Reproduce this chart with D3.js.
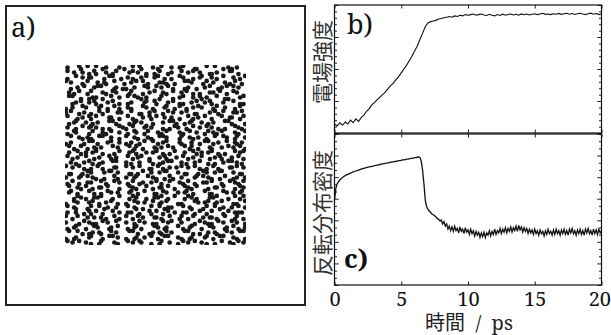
<!DOCTYPE html>
<html>
<head>
<meta charset="utf-8">
<script src="https://cdn.jsdelivr.net/npm/d3@7"></script>
<style>
  html, body { margin: 0; padding: 0; background: #fff; }
  svg { display: block; }
</style>
</head>
<body>
<div id="chart"></div>
<script>
// time axis ticks (ps)
const timeTicks = [0, 5, 10, 15, 20];

// b) field strength, sampled every 0.2 ps from 0 to 20
const fieldStep = 0.2;
const fieldValues = [
  0.07, 0.055, 0.08, 0.06, 0.085, 0.07, 0.10, 0.08, 0.11, 0.09,
  0.12, 0.14, 0.17, 0.19, 0.22, 0.24, 0.26, 0.28, 0.30, 0.32,
  0.345, 0.37, 0.39, 0.415, 0.44, 0.47, 0.50, 0.53, 0.565, 0.60,
  0.64, 0.68, 0.73, 0.78, 0.83, 0.86, 0.87, 0.875, 0.88, 0.89,
  0.895, 0.90, 0.905, 0.91, 0.905, 0.915, 0.91, 0.92, 0.915, 0.925,
  0.92, 0.925, 0.93, 0.92, 0.925, 0.93, 0.922, 0.918, 0.927, 0.92,
  0.915, 0.925, 0.918, 0.928, 0.92, 0.926, 0.93, 0.922, 0.928, 0.92,
  0.93, 0.924, 0.93, 0.922, 0.928, 0.932, 0.925, 0.93, 0.935, 0.927,
  0.93, 0.925, 0.932, 0.928, 0.934, 0.927, 0.932, 0.935, 0.928, 0.933,
  0.926, 0.932, 0.936, 0.93, 0.925, 0.932, 0.936, 0.928, 0.933, 0.925,
  0.93
];

// c) population inversion density, sampled every 0.1 ps from 0 to 20
const invStep = 0.1;
const invValues = [
  0.56, 0.64, 0.67, 0.685, 0.695, 0.705, 0.712, 0.718, 0.724, 0.729,
  0.733, 0.737, 0.741, 0.745, 0.749, 0.752, 0.755, 0.758, 0.761, 0.764,
  0.767, 0.770, 0.773, 0.776, 0.778, 0.780, 0.782, 0.784, 0.786, 0.788,
  0.790, 0.792, 0.794, 0.796, 0.798, 0.800, 0.802, 0.804, 0.806, 0.807,
  0.809, 0.811, 0.813, 0.814, 0.816, 0.818, 0.819, 0.821, 0.823, 0.824,
  0.826, 0.828, 0.829, 0.831, 0.833, 0.834, 0.836, 0.838, 0.839, 0.841,
  0.843, 0.844, 0.846, 0.848, 0.845, 0.82, 0.76, 0.67, 0.56, 0.52,
  0.50, 0.49, 0.48, 0.47, 0.465, 0.458, 0.45, 0.44, 0.435, 0.425,
  0.43, 0.405, 0.42, 0.39, 0.405, 0.37, 0.39, 0.36, 0.385, 0.355,
  0.39, 0.36, 0.375, 0.345, 0.385, 0.355, 0.37, 0.34, 0.38, 0.35,
  0.365, 0.335, 0.37, 0.34, 0.36, 0.325, 0.355, 0.33, 0.35, 0.315,
  0.345, 0.32, 0.35, 0.315, 0.345, 0.33, 0.36, 0.325, 0.355, 0.335,
  0.37, 0.335, 0.36, 0.345, 0.375, 0.34, 0.37, 0.35, 0.38, 0.345,
  0.375, 0.355, 0.385, 0.35, 0.38, 0.36, 0.39, 0.355, 0.395, 0.365,
  0.385, 0.35, 0.38, 0.355, 0.375, 0.34, 0.37, 0.345, 0.365, 0.335,
  0.37, 0.34, 0.36, 0.33, 0.365, 0.34, 0.355, 0.325, 0.36, 0.335,
  0.37, 0.34, 0.355, 0.33, 0.365, 0.335, 0.37, 0.34, 0.36, 0.33,
  0.365, 0.34, 0.37, 0.335, 0.36, 0.33, 0.37, 0.345, 0.375, 0.34,
  0.36, 0.33, 0.365, 0.34, 0.37, 0.335, 0.36, 0.33, 0.37, 0.345,
  0.375, 0.34, 0.36, 0.33, 0.37, 0.34, 0.365, 0.335, 0.37, 0.345,
  0.36
];

// a) particle snapshot: one row per string, one cell per character.
// '.' = empty cell, a..i = particle at one of 3x3 offsets inside the cell
const particleRows = [
  "e.cgb.ahd.fi.bcg.eha.dfb.ig.ac.hegd.",
  "bf.eicg.dha.fbe.gic.hd.aebf.igd.cah.",
  "h.aefd.icb.geh.dafbi.gce.hfa.dgb.eic",
  "ad.hb.efgc.i.dabh.fegi.cbd.hae.fic.g",
  ".gec.fba.idhgf.ce.adbh.ie.gfc.hdabe.",
  "fic.ha.egbd.ia.hfc.egb.dahi.fec.gbd.",
  "cb.giedh.af.bcegd.ia.hfb.ecgd.aih.fb",
  ".hdafcg.ebi.hd.facg.ebih.dafcg.e.bih",
  "ge.bd.fahci.eg.bdh.faic.gebd.haf.ic.",
  "daif.gchb.ed.aigfc.hbe.daig.fchb.eda",
  "b.hecga.fdi.bh.ecgaf.di.bhec.g.afdib",
  "ifa.dhe.cbg.ifad.h.ecbgifa.dhe.cbg.i",
  "e.gbfadhi.cegb.fad.hice.gbf.adhi.ceg",
  "hcd.ib.egaf.hcdib.ega.fhc.dibega.fhc",
  ".afhegcb.di.afh.egcbd.iafhe.gc.bdiaf",
  "gd.icbh.eaf.gdic.bhea.fg.dicbhe.afgd",
  "ci.ahfgd.be.ciah.fgdbe.ciah.fg.dbeci",
  "f.bgdeah.ic.fbg.deahic.f.bgdeahi.cfb",
  "bhe.aif.cgd.bheai.fcg.dbhe.aifcg.dbh",
  ".dgfchie.ba.dgf.chieba.dgfc.hi.ebadg",
  "aeci.gbh.fd.aec.igbhf.daeci.gbh.fdae",
  "ig.hbd.fcae.ighb.dfca.eig.hbdfca.eig",
  "d.fabegi.ch.dfa.begich.d.fabegic.hdf",
  "hbi.ed.agcf.hbie.dagc.fhbi.eda.gcfhb",
  "c.egahfdb.i.ceg.ahfdbi.cega.hfdb.ice",
  "fah.ci.gbde.fahc.igbd.efah.cig.bdefa",
  ".ibdgfea.hc.ibd.gfeahc.ibdg.fea.hcib",
  "gce.fbi.dah.gcef.bida.hg.cefbida.hgc",
  "bfg.hacie.d.bfgh.acied.bfg.hacie.dbf",
  "e.dicgah.bf.edi.cgahbf.edic.ga.hbfed",
  "ahb.ef.dgci.ahbe.fdgc.iahb.efdgc.iah",
  "d.icfhgbe.a.dicf.hgbea.d.icfhgbe.adi",
  "hfa.gce.idb.hfag.ceid.bhfa.gce.idbhf",
  "c.bhiefg.ad.cbh.iefgad.cbhi.efg.adcb",
  "gid.fa.hcbe.gidf.ahcb.egid.fahcb.egi",
  "bec.dgia.fh.becd.giaf.hbec.dgi.afhbe"
];

const W = 611, H = 335;
const svg = d3.select('#chart').append('svg')
  .attr('width', W).attr('height', H)
  .attr('viewBox', `0 0 ${W} ${H}`);

const serif = 'Noto Serif, Liberation Serif, serif';
const cjk = 'Noto Sans CJK JP, Noto Sans CJK SC, sans-serif';

// ---------- panel a ----------
const aBox = { x: 6, y: 6, w: 299, h: 299 };
const sq = { x0: 65, x1: 246, y0: 65, y1: 245 };
const nCols = 36, nRows = particleRows.length;
const xa = d3.scaleLinear().domain([0, nCols]).range([sq.x0, sq.x1]);
const ya = d3.scaleLinear().domain([0, nRows]).range([sq.y0, sq.y1]);
const offs = { a: [-1, -1], b: [0, -1], c: [1, -1], d: [-1, 0], e: [0, 0], f: [1, 0], g: [-1, 1], h: [0, 1], i: [1, 1] };

const particles = [];
particleRows.forEach((row, r) => {
  row.split('').forEach((ch, c) => {
    if (offs[ch]) particles.push({ c: c + 0.5 + offs[ch][0] * 0.32, r: r + 0.5 + offs[ch][1] * 0.32 });
  });
});

svg.append('clipPath').attr('id', 'sqclip')
  .append('rect')
  .attr('x', sq.x0).attr('y', sq.y0)
  .attr('width', sq.x1 - sq.x0).attr('height', sq.y1 - sq.y0);

svg.append('g').attr('clip-path', 'url(#sqclip)')
  .selectAll('circle')
  .data(particles)
  .enter().append('circle')
  .attr('cx', d => xa(d.c))
  .attr('cy', d => ya(d.r))
  .attr('r', 2.35)
  .attr('fill', '#1a1a1a');

svg.append('rect')
  .attr('x', aBox.x).attr('y', aBox.y)
  .attr('width', aBox.w).attr('height', aBox.h)
  .attr('fill', 'none').attr('stroke', '#222').attr('stroke-width', 2);

svg.append('text').text('a)')
  .attr('x', 11).attr('y', 37)
  .attr('font-family', serif).attr('font-size', 27).attr('fill', '#111');

// ---------- panels b and c ----------
const x = d3.scaleLinear().domain([0, 20]).range([334.5, 601.5]);
const yB = d3.scaleLinear().domain([0, 1]).range([133, 5]);
const yC = d3.scaleLinear().domain([0, 1]).range([285, 134]);

function frame(y) {
  const [y1, y0] = y.range();
  svg.append('rect')
    .attr('x', x.range()[0]).attr('y', y0)
    .attr('width', x.range()[1] - x.range()[0]).attr('height', y1 - y0)
    .attr('fill', 'none').attr('stroke', '#111').attr('stroke-width', 1.2);
}

function yTicks(y, step, majorEvery) {
  const vals = d3.range(0, 1 + 1e-9, step);
  const left = svg.append('g').attr('transform', `translate(${x.range()[0]},0)`)
    .call(d3.axisLeft(y).tickValues(vals).tickSize(-2.5).tickFormat(''));
  const right = svg.append('g').attr('transform', `translate(${x.range()[1]},0)`)
    .call(d3.axisRight(y).tickValues(vals).tickSize(-2.5).tickFormat(''));
  [left, right].forEach(g => {
    g.select('.domain').remove();
    g.selectAll('.tick line')
      .attr('stroke', '#222')
      .attr('x2', function (d, i) {
        const v = +d3.select(this).attr('x2');
        return i % majorEvery === 0 ? v * 1.7 : v;
      });
  });
}

function xTicks(y, withLabels) {
  const [y1, y0] = y.range();
  const bottom = svg.append('g').attr('transform', `translate(0,${y1})`)
    .call(d3.axisBottom(x).tickValues(timeTicks).tickSize(-3.5).tickPadding(7)
      .tickFormat(withLabels ? d3.format('d') : ''));
  const top = svg.append('g').attr('transform', `translate(0,${y0})`)
    .call(d3.axisTop(x).tickValues(timeTicks).tickSize(-3.5).tickFormat(''));
  [bottom, top].forEach(g => {
    g.select('.domain').remove();
    g.selectAll('.tick line').attr('stroke', '#222');
  });
  bottom.attr('font-family', serif).attr('font-size', 20);
  bottom.selectAll('.tick text').attr('fill', '#111');
  // keep the last label inside the page edge
  bottom.selectAll('.tick text')
    .filter(d => d === timeTicks[timeTicks.length - 1])
    .attr('text-anchor', 'end').attr('x', 9);
}

yTicks(yB, 0.05, 5);
yTicks(yC, 1 / 21, 3);
xTicks(yB, false);
xTicks(yC, true);
frame(yB);
frame(yC);

const lineB = d3.line().x((d, i) => x(i * fieldStep)).y(d => yB(d));
const lineC = d3.line().x((d, i) => x(i * invStep)).y(d => yC(d));

svg.append('path').datum(fieldValues)
  .attr('d', lineB).attr('fill', 'none')
  .attr('stroke', '#111').attr('stroke-width', 1.1);

svg.append('path').datum(invValues)
  .attr('d', lineC).attr('fill', 'none')
  .attr('stroke', '#111').attr('stroke-width', 1.3);

svg.append('text').text('b)')
  .attr('x', 347).attr('y', 34)
  .attr('font-family', serif).attr('font-size', 27).attr('fill', '#111');

svg.append('text').text('c)')
  .attr('x', 344).attr('y', 268)
  .attr('font-family', serif).attr('font-size', 26).attr('font-weight', 'bold').attr('fill', '#111');

// axis titles
svg.append('text').text('電場強度')
  .attr('transform', 'translate(330,62) rotate(-90)')
  .attr('text-anchor', 'middle')
  .attr('font-family', cjk).attr('font-size', 21).attr('fill', '#333');

svg.append('text').text('反転分布密度')
  .attr('transform', 'translate(330,213) rotate(-90)')
  .attr('text-anchor', 'middle')
  .attr('font-family', cjk).attr('font-size', 21).attr('fill', '#333');

const xTitle = svg.append('text')
  .attr('x', 469).attr('y', 330)
  .attr('text-anchor', 'middle')
  .attr('fill', '#222');
xTitle.append('tspan').text('時間')
  .attr('font-family', cjk).attr('font-size', 20);
xTitle.append('tspan').text('\u00a0\u00a0/\u00a0\u00a0ps')
  .attr('font-family', serif).attr('font-size', 20);
</script>
</body>
</html>
